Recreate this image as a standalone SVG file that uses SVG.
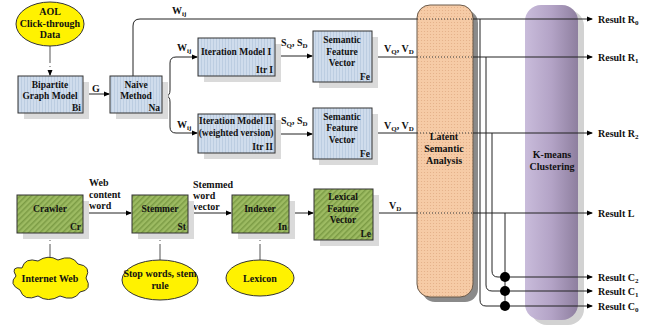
<svg xmlns="http://www.w3.org/2000/svg" width="646" height="329" viewBox="0 0 646 329">
<defs>
<pattern id="pBlue" width="3" height="3" patternUnits="userSpaceOnUse">
<rect width="3" height="3" fill="#cfdcec"/>
<rect width="1" height="3" fill="#bccde1"/>
</pattern>
<pattern id="pGreen" width="4" height="4" patternUnits="userSpaceOnUse" patternTransform="rotate(45)">
<rect width="4" height="4" fill="#9dbb62"/>
<rect width="1.5" height="4" fill="#7c9c45"/>
</pattern>
<pattern id="pPeach" width="3" height="3" patternUnits="userSpaceOnUse">
<rect width="3" height="3" fill="#f6cba6"/>
<circle cx="1.5" cy="1.5" r="0.6" fill="#e3ae86"/>
</pattern>
<linearGradient id="gKm" x1="0" y1="0" x2="1" y2="0">
<stop offset="0" stop-color="#c9bcdb"/>
<stop offset="0.5" stop-color="#b3a3c6"/>
<stop offset="1" stop-color="#8e7f9f"/>
</linearGradient>
<marker id="arr" markerWidth="6" markerHeight="6" refX="5" refY="3" orient="auto" markerUnits="userSpaceOnUse">
<path d="M0,0.5 L6,3 L0,5.5 Z" fill="#000"/>
</marker>
<style>
text{font-family:"Liberation Serif","Times New Roman",serif;font-weight:bold;font-size:10px;fill:#111}
.b{font-size:9.5px}
.c{text-anchor:middle}
.r{text-anchor:end}
.sub{font-size:7px}
.box{stroke:#333;stroke-width:1}
.blue{fill:url(#pBlue)}
.green{fill:url(#pGreen)}
.shadow{fill:#dadada}
.ln{fill:none;stroke:#222;stroke-width:1}
.dot{fill:none;stroke:#333;stroke-width:1;stroke-dasharray:1,2}
.gl{fill:none;stroke:#555;stroke-width:1}
.yel{fill:#fff200;stroke:#333;stroke-width:1}
</style>
</defs>
<rect width="646" height="329" fill="#fff"/>

<g id="kmeans">
<rect x="531" y="10" width="53" height="315" rx="16" fill="#d2d2d2"/>
<rect x="525" y="5" width="53" height="315" rx="16" fill="url(#gKm)"/>
<text class="c" x="552" y="158">K-means</text>
<text class="c" x="552" y="170">Clustering</text>
</g>
<g id="lsa">
<rect x="422" y="10" width="56" height="292" rx="13" fill="#8a8a8a"/>
<rect x="417" y="5" width="56" height="292" rx="13" fill="url(#pPeach)" stroke="#6b5a4a" stroke-width="1"/>
<text class="c" x="444" y="140">Latent</text>
<text class="c" x="444" y="152">Semantic</text>
<text class="c" x="444" y="164">Analysis</text>
</g>

<g id="connectors">
<line class="gl" x1="50" y1="46" x2="50" y2="63"/>
<line class="gl" x1="50" y1="66" x2="50" y2="67"/>
<line class="ln" x1="50" y1="70" x2="50" y2="75" marker-end="url(#arr)"/>
<line class="ln" x1="83" y1="94" x2="109" y2="94" marker-end="url(#arr)"/>
<path class="ln" d="M133,76 V26 Q133,19 140,19 H417"/>
<path class="ln" d="M162,96 H166 Q170,96 170,90 V63 Q170,57 176,57 H197" marker-end="url(#arr)"/>
<path class="ln" d="M166,96 Q170,96 170,102 V127 Q170,133 176,133 H197" marker-end="url(#arr)"/>
<line class="ln" x1="275" y1="56" x2="312" y2="56" marker-end="url(#arr)"/>
<line class="ln" x1="275" y1="134" x2="312" y2="134" marker-end="url(#arr)"/>
<line class="ln" x1="372" y1="57" x2="417" y2="57"/>
<line class="ln" x1="372" y1="133" x2="417" y2="133"/>
<line class="ln" x1="83" y1="213" x2="131" y2="213" marker-end="url(#arr)"/>
<line class="ln" x1="188" y1="213" x2="231" y2="213" marker-end="url(#arr)"/>
<line class="ln" x1="289" y1="213" x2="313" y2="213" marker-end="url(#arr)"/>
<line class="ln" x1="373" y1="213" x2="417" y2="213"/>
<line class="gl" x1="50" y1="259" x2="50" y2="244"/>
<line class="gl" x1="50" y1="241" x2="50" y2="240"/>
<line class="ln" x1="50" y1="238" x2="50" y2="234" marker-end="url(#arr)"/>
<line class="gl" x1="160" y1="260" x2="160" y2="244"/>
<line class="gl" x1="160" y1="241" x2="160" y2="240"/>
<line class="ln" x1="160" y1="238" x2="160" y2="234" marker-end="url(#arr)"/>
<line class="gl" x1="260" y1="260" x2="260" y2="244"/>
<line class="gl" x1="260" y1="241" x2="260" y2="240"/>
<line class="ln" x1="260" y1="238" x2="260" y2="234" marker-end="url(#arr)"/>
<line class="dot" x1="417" y1="19" x2="473" y2="19"/>
<line class="dot" x1="417" y1="57" x2="473" y2="57"/>
<line class="dot" x1="417" y1="133" x2="473" y2="133"/>
<line class="dot" x1="417" y1="213" x2="473" y2="213"/>
<line class="ln" x1="473" y1="19" x2="592" y2="19" marker-end="url(#arr)"/>
<line class="ln" x1="473" y1="57" x2="592" y2="57" marker-end="url(#arr)"/>
<line class="ln" x1="473" y1="133" x2="592" y2="133" marker-end="url(#arr)"/>
<line class="ln" x1="473" y1="213" x2="592" y2="213" marker-end="url(#arr)"/>
<path class="ln" d="M480,19 V300 Q480,306 486,306 H592" marker-end="url(#arr)"/>
<path class="ln" d="M486,57 V285 Q486,291 492,291 H592" marker-end="url(#arr)"/>
<path class="ln" d="M492,133 V271 Q492,277 498,277 H592" marker-end="url(#arr)"/>
<line class="ln" x1="505" y1="213" x2="505" y2="306"/>
<circle cx="505" cy="277" r="5" fill="#000"/>
<circle cx="505" cy="291" r="5" fill="#000"/>
<circle cx="505" cy="306" r="5" fill="#000"/>
</g>

<g id="labels">
<text x="92" y="92">G</text>
<text x="172" y="14">W<tspan class="sub" dy="2">ij</tspan></text>
<text x="177" y="51">W<tspan class="sub" dy="2">ij</tspan></text>
<text x="177" y="128">W<tspan class="sub" dy="2">ij</tspan></text>
<text x="281" y="46">S<tspan class="sub" dy="2">Q</tspan><tspan dy="-2">, S</tspan><tspan class="sub" dy="2">D</tspan></text>
<text x="281" y="124">S<tspan class="sub" dy="2">Q</tspan><tspan dy="-2">, S</tspan><tspan class="sub" dy="2">D</tspan></text>
<text x="384" y="52">V<tspan class="sub" dy="2">Q</tspan><tspan dy="-2">, V</tspan><tspan class="sub" dy="2">D</tspan></text>
<text x="384" y="129">V<tspan class="sub" dy="2">Q</tspan><tspan dy="-2">, V</tspan><tspan class="sub" dy="2">D</tspan></text>
<text x="389" y="209">V<tspan class="sub" dy="2">D</tspan></text>
<text x="89" y="186">Web</text>
<text x="89" y="198">content</text>
<text x="89" y="209">word</text>
<text x="193" y="188">Stemmed</text>
<text x="193" y="199">word</text>
<text x="193" y="210">vector</text>
<text x="598" y="23">Result R<tspan class="sub" dy="2">0</tspan></text>
<text x="598" y="61">Result R<tspan class="sub" dy="2">1</tspan></text>
<text x="598" y="137">Result R<tspan class="sub" dy="2">2</tspan></text>
<text x="598" y="217">Result L</text>
<text x="598" y="281">Result C<tspan class="sub" dy="2">2</tspan></text>
<text x="598" y="295">Result C<tspan class="sub" dy="2">1</tspan></text>
<text x="598" y="310">Result C<tspan class="sub" dy="2">0</tspan></text>
</g>

<g id="aol">
<ellipse class="yel" cx="50" cy="24" rx="34" ry="22"/>
<text class="c" x="50" y="15">AOL</text>
<text class="c" x="50" y="27">Click-through</text>
<text class="c" x="50" y="38">Data</text>
</g>
<g id="bipartite">
<rect class="shadow" x="24" y="82" width="65" height="37"/>
<rect class="box blue" x="18" y="76" width="65" height="37"/>
<text class="c b" x="50" y="88">Bipartite</text>
<text class="c b" x="50" y="99">Graph Model</text>
<text class="r b" x="81" y="111">Bi</text>
</g>
<g id="naive">
<rect class="shadow" x="116" y="82" width="52" height="37"/>
<rect class="box blue" x="110" y="76" width="52" height="37"/>
<text class="c b" x="136" y="88">Naive</text>
<text class="c b" x="136" y="99">Method</text>
<text class="r b" x="160" y="111">Na</text>
</g>
<g id="itr1">
<rect class="shadow" x="204" y="44" width="77" height="38"/>
<rect class="box blue" x="198" y="38" width="77" height="38"/>
<text class="c b" x="236" y="55">Iteration Model I</text>
<text class="r b" x="273" y="73">Itr I</text>
</g>
<g id="itr2">
<rect class="shadow" x="204" y="120" width="77" height="39"/>
<rect class="box blue" x="198" y="114" width="77" height="39"/>
<text class="c b" x="236" y="124">Iteration Model II</text>
<text class="c b" x="236" y="136">(weighted version)</text>
<text class="r b" x="273" y="150">Itr II</text>
</g>
<g id="fe1">
<rect class="shadow" x="319" y="37" width="59" height="51"/>
<rect class="box blue" x="313" y="31" width="59" height="51"/>
<text class="c b" x="342" y="43">Semantic</text>
<text class="c b" x="342" y="55">Feature</text>
<text class="c b" x="342" y="66">Vector</text>
<text class="r b" x="370" y="80">Fe</text>
</g>
<g id="fe2">
<rect class="shadow" x="319" y="114" width="59" height="51"/>
<rect class="box blue" x="313" y="108" width="59" height="51"/>
<text class="c b" x="342" y="120">Semantic</text>
<text class="c b" x="342" y="131">Feature</text>
<text class="c b" x="342" y="143">Vector</text>
<text class="r b" x="370" y="157">Fe</text>
</g>
<g id="crawler">
<rect class="shadow" x="23" y="201" width="66" height="38"/>
<rect class="box green" x="17" y="195" width="66" height="38"/>
<text class="c b" x="50" y="212">Crawler</text>
<text class="r b" x="81" y="230">Cr</text>
</g>
<g id="stemmer">
<rect class="shadow" x="138" y="201" width="56" height="38"/>
<rect class="box green" x="132" y="195" width="56" height="38"/>
<text class="c b" x="160" y="212">Stemmer</text>
<text class="r b" x="186" y="230">St</text>
</g>
<g id="indexer">
<rect class="shadow" x="238" y="201" width="57" height="38"/>
<rect class="box green" x="232" y="195" width="57" height="38"/>
<text class="c b" x="260" y="212">Indexer</text>
<text class="r b" x="287" y="230">In</text>
</g>
<g id="lexical">
<rect class="shadow" x="320" y="195" width="59" height="51"/>
<rect class="box green" x="314" y="189" width="59" height="51"/>
<text class="c b" x="343" y="200">Lexical</text>
<text class="c b" x="343" y="212">Feature</text>
<text class="c b" x="343" y="223">Vector</text>
<text class="r b" x="371" y="237">Le</text>
</g>
<g id="internet">
<path class="yel" d="M22,268 Q25,257 38,261 Q48,254 58,260 Q72,254 78,264 Q92,266 86,278 Q93,290 80,292 Q74,302 60,296 Q48,303 38,296 Q24,302 20,290 Q8,284 16,276 Q10,266 22,268 Z"/>
<text class="c" x="50" y="282">Internet Web</text>
</g>
<g id="stopwords">
<ellipse class="yel" cx="160" cy="280" rx="38" ry="20"/>
<text class="c" x="160" y="277">Stop words, stem</text>
<text class="c" x="160" y="289">rule</text>
</g>
<g id="lexicon">
<ellipse class="yel" cx="260" cy="278" rx="34" ry="18"/>
<text class="c" x="260" y="282">Lexicon</text>
</g>
</svg>
